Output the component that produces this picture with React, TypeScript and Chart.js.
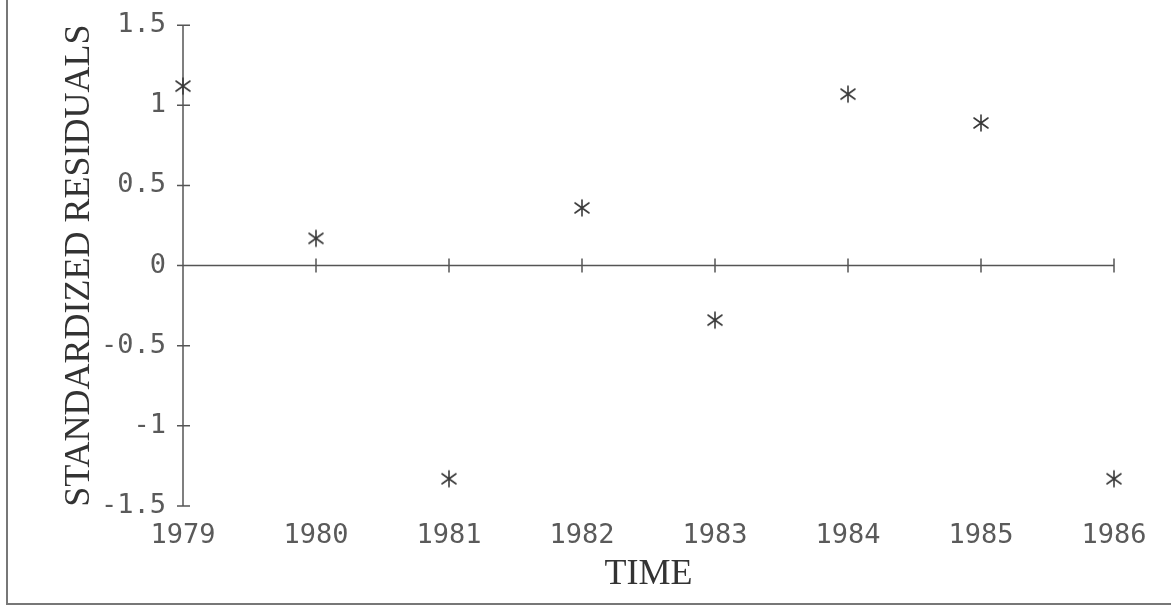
import React, { useEffect, useRef } from "react";
import { Chart, registerables } from "chart.js";
Chart.register(...registerables);

const years = [1979, 1980, 1981, 1982, 1983, 1984, 1985, 1986];
const residuals = [1.12, 0.17, -1.33, 0.36, -0.34, 1.07, 0.89, -1.33];
const yMin = -1.5;
const yMax = 1.5;
const yStep = 0.5;
const xTitle = "TIME";
const yTitle = "STANDARDIZED RESIDUALS";

function makeAsterisk(): HTMLCanvasElement {
  const c = document.createElement("canvas");
  c.width = 18;
  c.height = 20;
  const ctx = c.getContext("2d")!;
  ctx.strokeStyle = "#3a3a3a";
  ctx.lineWidth = 1.6;
  ctx.lineCap = "round";
  const cx = 9, cy = 10;
  ctx.beginPath();
  ctx.moveTo(cx, cy - 8); ctx.lineTo(cx, cy + 8);
  ctx.moveTo(cx - 7, cy - 5); ctx.lineTo(cx + 7, cy + 5);
  ctx.moveTo(cx - 7, cy + 5); ctx.lineTo(cx + 7, cy - 5);
  ctx.stroke();
  return c;
}

const crossAxes = {
  id: "crossAxes",
  beforeDatasetsDraw(chart: any) {
    const { ctx, chartArea, scales } = chart;
    const xs = scales.x, ys = scales.y;
    ctx.save();
    ctx.strokeStyle = "#555";
    ctx.lineWidth = 1.5;
    const ax = chartArea.left;
    ctx.beginPath();
    ctx.moveTo(ax, ys.getPixelForValue(yMax));
    ctx.lineTo(ax, ys.getPixelForValue(yMin));
    ys.ticks.forEach((t: any) => {
      const py = ys.getPixelForValue(t.value);
      ctx.moveTo(ax - 6, py);
      ctx.lineTo(ax + 7, py);
    });
    const zy = ys.getPixelForValue(0);
    ctx.moveTo(xs.getPixelForValue(years[0]), zy);
    ctx.lineTo(xs.getPixelForValue(years[years.length - 1]), zy);
    xs.ticks.forEach((t: any) => {
      const px = xs.getPixelForValue(t.value);
      ctx.moveTo(px, zy - 7);
      ctx.lineTo(px, zy + 7);
    });
    ctx.stroke();
    ctx.restore();
  },
  afterDraw(chart: any) {
    const { ctx, width, height } = chart;
    ctx.save();
    ctx.strokeStyle = "#777";
    ctx.lineWidth = 2;
    ctx.beginPath();
    ctx.moveTo(7, 0);
    ctx.lineTo(7, height - 3);
    ctx.lineTo(width, height - 3);
    ctx.stroke();
    ctx.restore();
  },
};

export default function App() {
  const ref = useRef<HTMLCanvasElement>(null);
  useEffect(() => {
    if (!ref.current) return;
    const star = makeAsterisk();
    const tickFont = { family: "'DejaVu Sans Mono', monospace", size: 27 };
    const titleFont = { family: "'Liberation Serif', serif", size: 36 };
    const chart = new Chart(ref.current, {
      type: "scatter",
      data: {
        datasets: [
          {
            data: years.map((y, i) => ({ x: y, y: residuals[i] })),
            pointStyle: star as any,
            pointRadius: 9,
            borderColor: "#333",
            backgroundColor: "#333",
            clip: false as any,
          },
        ],
      },
      options: {
        animation: false,
        responsive: true,
        maintainAspectRatio: false,
        layout: { padding: { left: 0, top: 22, right: 57, bottom: 0 } },
        plugins: { legend: { display: false }, tooltip: { enabled: false } },
        scales: {
          x: {
            type: "linear",
            min: years[0],
            max: years[years.length - 1],
            grid: { display: false },
            border: { display: false },
            ticks: {
              stepSize: 1,
              color: "#5a5a5a",
              font: tickFont,
              padding: 6,
              callback: (v: any) => String(v),
            },
            title: {
              display: true,
              text: xTitle,
              color: "#333",
              font: titleFont,
              padding: { top: 0, bottom: 11 },
            },
            afterFit: (s: any) => { s.height = 101; },
          },
          y: {
            type: "linear",
            min: yMin,
            max: yMax,
            grid: { display: false },
            border: { display: false },
            ticks: {
              stepSize: yStep,
              color: "#5a5a5a",
              font: tickFont,
              padding: 9,
              callback: (v: any) => String(v),
            },
            title: {
              display: true,
              text: yTitle,
              color: "#333",
              font: titleFont,
              padding: { top: 58, bottom: 0 },
            },
            afterFit: (s: any) => { s.width = 183; },
          },
        },
      },
      plugins: [crossAxes],
    });
    return () => chart.destroy();
  }, []);
  return (
    <div style={{ position: "fixed", left: 0, top: 0, width: 1171, height: 607, background: "#fff" }}>
      <canvas ref={ref} />
    </div>
  );
}
